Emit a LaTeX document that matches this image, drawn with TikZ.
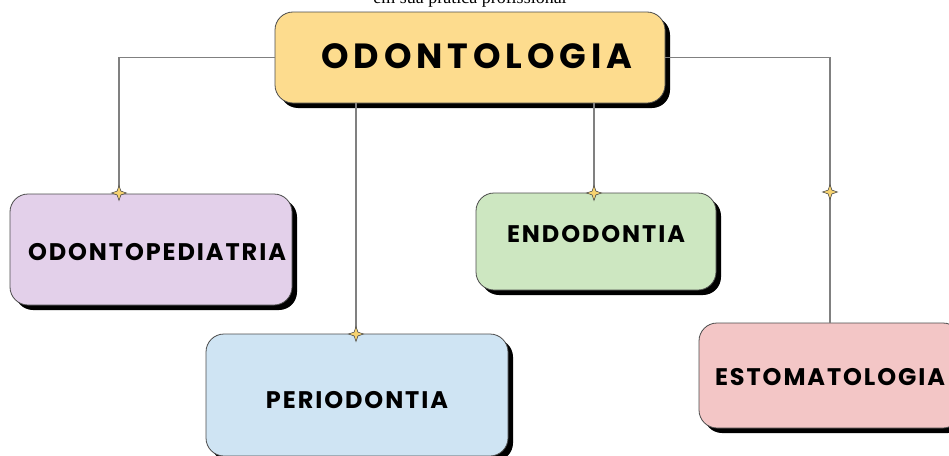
\documentclass[tikz,border=0pt]{standalone}
\usepackage{fontspec}
\newfontfamily\mainfont[LetterSpace=14]{Poppins}
\newfontfamily\boxfont[LetterSpace=8]{Poppins}
\newfontfamily\capfont{Liberation Serif}
\usetikzlibrary{shapes.geometric,shadows}

\definecolor{maincol}{RGB}{253,220,142}
\definecolor{pedcol}{RGB}{227,208,234}
\definecolor{pericol}{RGB}{207,228,243}
\definecolor{endocol}{RGB}{205,231,193}
\definecolor{estocol}{RGB}{243,198,198}
\definecolor{starcol}{RGB}{247,211,112}

\newcommand{\lift}[2]{\raisebox{#1}[0pt][0pt]{#2}}

\begin{document}
\begin{tikzpicture}[x=1pt,y=-1pt]
    \tikzstyle{area}=[draw=black!70,line width=0.8pt,rounded corners=18pt,
        drop shadow={shadow xshift=5pt,shadow yshift=-5pt,fill=black,opacity=1},
        font=\boxfont\bfseries\fontsize{24}{28}\selectfont,inner sep=0pt]
    \tikzstyle{link}=[draw=black!50,line width=1.1pt]
    \tikzstyle{spark}=[star,star points=4,star point ratio=2.8,minimum size=15pt,
        inner sep=0pt,fill=starcol,draw=black!70,line width=0.6pt]

    \useasboundingbox (0,0) rectangle (949,455);

    % Caption cut by the top edge
    \node[font=\capfont\fontsize{18}{20}\selectfont,anchor=base] (cap) at (470,3)
        {em sua prática profissional};

    % Draw the main box
    \node[area,fill=maincol,minimum width=390pt,minimum height=91pt,
        font=\mainfont\bfseries\fontsize{35}{40}\selectfont] (main) at (470,57.5)
        {\lift{-10.5pt}{\hspace*{14pt}ODONTOLOGIA}};

    % Draw the branch boxes
    \node[area,fill=pedcol,minimum width=282pt,minimum height=111pt] (ped) at (151,249.5)
        {\lift{-11pt}{\hspace*{12pt}ODONTOPEDIATRIA}};
    \node[area,fill=pericol,minimum width=302pt,minimum height=122pt] (peri) at (357,395)
        {\lift{-13.5pt}{PERIODONTIA}};
    \node[area,fill=endocol,minimum width=240pt,minimum height=97pt] (endo) at (596,241.5)
        {\lift{-1pt}{ENDODONTIA}};
    \node[area,fill=estocol,minimum width=262pt,minimum height=105pt] (esto) at (830,375.5)
        {\lift{-10pt}{ESTOMATOLOGIA}};

    % Connect the main box with every branch box
    \coordinate (p1) at (119,193);
    \coordinate (p2) at (356,334);
    \coordinate (p3) at (594,193);
    \coordinate (p4) at (830,192);
    \path[link] (main.west) -| (p1);
    \path[link] (main.south -| p2) -- (p2);
    \path[link] (main.south -| p3) -- (p3);
    \path[link] (main.east) -| (esto.north);

    % Draw the sparks on the links
    \foreach \i in {1,...,4}
        \node[spark] (s-\i) at (p\i) {};
\end{tikzpicture}
\end{document}
